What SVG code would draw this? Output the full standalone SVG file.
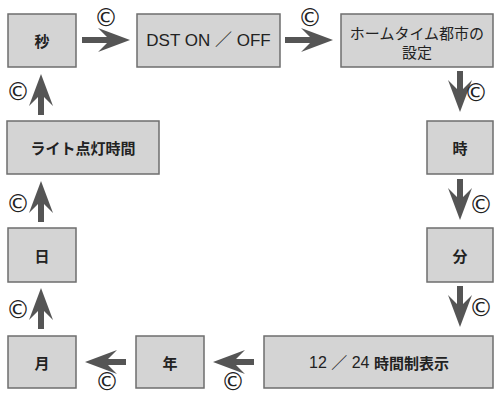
<svg xmlns="http://www.w3.org/2000/svg" xmlns:xlink="http://www.w3.org/1999/xlink" width="495" height="396" viewBox="0 0 495 396">
<style>
.box{fill:#d4d4d4;stroke:#6e6e6e;stroke-width:1.5}
.t{font-family:"Noto Sans CJK JP","Noto Sans",sans-serif;fill:#222;text-anchor:middle;dominant-baseline:central}
.l{font-family:"Liberation Sans","Noto Sans CJK JP",sans-serif}
.b{font-weight:700;font-size:15px}
.r{font-size:15px}
.arr{fill:#555}
.c{font-family:"DejaVu Sans",sans-serif;font-size:24px;fill:#222;text-anchor:middle;dominant-baseline:central}
</style>
<defs>
<path id="a48" d="M-48,-3 L-23,-3 L-32,-12 L0,0 L-32,12 L-23,3 L-48,3 Z"/>
<path id="a41" d="M-41,-3 L-23,-3 L-32,-12 L0,0 L-32,12 L-23,3 L-41,3 Z"/>
</defs>
<rect width="495" height="396" fill="#fff"/>
<g id="n-byo"><rect class="box" x="8" y="14" width="68" height="53"/><text class="t b" x="42" y="40.5">秒</text></g>
<g id="n-dst"><rect class="box" x="137" y="14" width="143" height="53"/><text class="t l" x="208.5" y="40.5" font-size="17">DST ON ／ OFF</text></g>
<g id="n-home"><rect class="box" x="341" y="14" width="152" height="53"/><text class="t r" x="417" y="32">ホームタイム都市の</text><text class="t r" x="417" y="51">設定</text></g>
<g id="n-ji"><rect class="box" x="427" y="121" width="66" height="53"/><text class="t b" x="460" y="147.5">時</text></g>
<g id="n-fun"><rect class="box" x="427" y="228" width="66" height="54"/><text class="t b" x="460" y="255">分</text></g>
<g id="n-1224"><rect class="box" x="264" y="336" width="229" height="52"/><text class="t l" x="379" y="362" font-size="16">12 ／ 24 <tspan font-family="Noto Sans CJK JP" font-size="15" font-weight="700">時間制表示</tspan></text></g>
<g id="n-nen"><rect class="box" x="136" y="336" width="68" height="52"/><text class="t b" x="170" y="362">年</text></g>
<g id="n-tsuki"><rect class="box" x="8" y="336" width="68" height="52"/><text class="t b" x="42" y="362">月</text></g>
<g id="n-hi"><rect class="box" x="8" y="228" width="68" height="54"/><text class="t b" x="42" y="255">日</text></g>
<g id="n-light"><rect class="box" x="7" y="121" width="152" height="53"/><text class="t b" x="83" y="147.5">ライト点灯時間</text></g>
<g id="connectors" class="arr">
<use xlink:href="#a48" transform="translate(130,40)"/>
<use xlink:href="#a48" transform="translate(333,40)"/>
<use xlink:href="#a41" transform="translate(460,112) rotate(90)"/>
<use xlink:href="#a41" transform="translate(460,220) rotate(90)"/>
<use xlink:href="#a41" transform="translate(460,327) rotate(90)"/>
<use xlink:href="#a41" transform="translate(213,362) rotate(180)"/>
<use xlink:href="#a41" transform="translate(85,362) rotate(180)"/>
<use xlink:href="#a41" transform="translate(41,288) rotate(-90)"/>
<use xlink:href="#a41" transform="translate(41,181) rotate(-90)"/>
<use xlink:href="#a41" transform="translate(41,74) rotate(-90)"/>
</g>
<g id="labels">
<text class="c" x="106" y="17.5">©</text>
<text class="c" x="310" y="17.5">©</text>
<text class="c" x="476" y="93">©</text>
<text class="c" x="481" y="205">©</text>
<text class="c" x="481" y="308">©</text>
<text class="c" x="233" y="382">©</text>
<text class="c" x="107" y="382">©</text>
<text class="c" x="18" y="310">©</text>
<text class="c" x="18" y="204">©</text>
<text class="c" x="18" y="92">©</text>
</g>
</svg>
